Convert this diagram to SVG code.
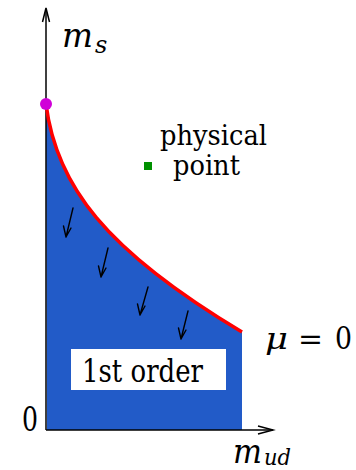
<svg xmlns="http://www.w3.org/2000/svg" width="356" height="470" viewBox="0 0 356 470">
<style>
text{font-family:"DejaVu Serif","Liberation Serif",serif;fill:#000}
.i{font-style:italic}
.ax{stroke:#000;stroke-width:1.5;fill:none}
.ar{stroke:#000;stroke-width:1.4;fill:none;stroke-linecap:round;stroke-linejoin:round}
</style>
<rect width="356" height="470" fill="#fff"/>
<g id="region">
<path d="M46,104 C56,185 105,250 242,332 L242,430 L47,430 Z" fill="#225BC8"/>
</g>
<g id="connectors">
<path class="ax" d="M46,430 V9"/>
<path class="ax" d="M42.5,22 L46,8 L49.5,22"/>
<path class="ax" d="M46,430 H273"/>
<path class="ax" d="M258,426 L273,430 L258,434"/>
<path d="M46,104 C56,185 105,250 242,332" fill="none" stroke="#ff0000" stroke-width="3.5"/>
<g id="arrows">
<path class="ar" d="M73,208 L66,237 M63.5,226 L66,237 L71,228"/>
<path class="ar" d="M108,248 L101,277 M98.5,266 L101,277 L106,268"/>
<path class="ar" d="M148,287 L140,315 M137.5,304 L140,315 L145,306"/>
<path class="ar" d="M188,311 L181,339 M178.5,328 L181,339 L186,330"/>
</g>
</g>
<g id="endpoint">
<circle cx="46" cy="104" r="6" fill="#d000d8"/>
</g>
<g id="physical-point">
<rect x="144" y="162" width="8" height="8" fill="#009000"/>
<text x="160" y="145" font-size="28" textLength="107" lengthAdjust="spacingAndGlyphs">physical</text>
<text x="173" y="175" font-size="28" textLength="67" lengthAdjust="spacingAndGlyphs">point</text>
</g>
<g id="first-order">
<rect x="71" y="349" width="155" height="41" fill="#fff"/>
<text x="82" y="382" font-size="32" textLength="121" lengthAdjust="spacingAndGlyphs">1st order</text>
</g>
<g id="labels">
<text class="i" x="62" y="47" font-size="34" textLength="31" lengthAdjust="spacingAndGlyphs">m</text>
<text class="i" x="95" y="53" font-size="24">s</text>
<text class="i" x="233" y="463" font-size="34" textLength="29" lengthAdjust="spacingAndGlyphs">m</text>
<text class="i" x="264" y="465" font-size="22" textLength="27" lengthAdjust="spacingAndGlyphs">ud</text>
<text x="22" y="431" font-size="33" textLength="16" lengthAdjust="spacingAndGlyphs">0</text>
<text class="i" x="265" y="349" font-size="30" textLength="23" lengthAdjust="spacingAndGlyphs">μ</text>
<text x="298" y="349" font-size="30" textLength="25" lengthAdjust="spacingAndGlyphs">=</text>
<text x="335" y="349" font-size="32" textLength="17" lengthAdjust="spacingAndGlyphs">0</text>
</g>
</svg>
